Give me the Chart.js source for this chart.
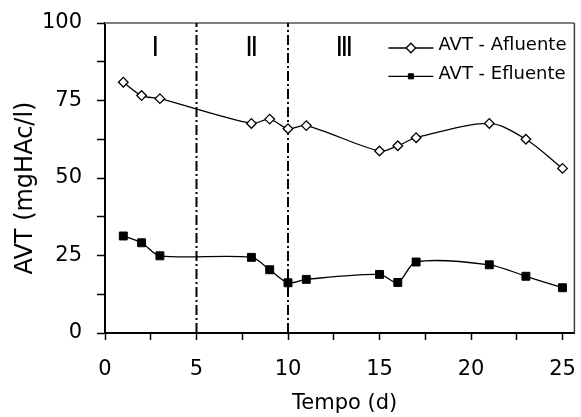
<!DOCTYPE html>
<html><head><meta charset="utf-8">
<script src="https://cdn.jsdelivr.net/npm/chart.js@4/dist/chart.umd.min.js"></script>
<style>html,body{margin:0;padding:0;background:#fff;}canvas{display:block;}</style>
</head><body>
<canvas id="c" width="581" height="417"></canvas>
<script>
// ---- data ----
const days = [1, 2, 3, 8, 9, 10, 11, 15, 16, 17, 21, 23, 25];
const afluente = [80.9, 76.6, 75.6, 67.6, 69.0, 65.9, 66.9, 58.7, 60.4, 63.0, 67.6, 62.5, 53.1];
const efluente = [31.3, 29.1, 24.9, 24.4, 20.4, 16.2, 17.3, 18.9, 16.3, 22.9, 22.0, 18.3, 14.6];
const seriesNames = ['AVT - Afluente', 'AVT - Efluente'];
const phaseBounds = [5, 10];
const phaseLabels = ['I', 'II', 'III'];
const phaseLabelX = [2.73, 8.0, 13.06];
const phaseLabelY = 89.4;
const xTickLabels = [0, 5, 10, 15, 20, 25];
const yTickLabels = [0, 25, 50, 75, 100];
const xTitle = 'Tempo (d)';
const yTitle = 'AVT (mgHAc/l)';

const FONT = 'DejaVu Sans';
const xMin = 0, xMax = 25.65, xMinorStep = 2.5, xLastTick = 25;
const yMin = 0, yMax = 100, yMinorStep = 12.5;

const toPts = (ys) => days.map((d, i) => ({x: d, y: ys[i]}));

const datasets = [
  {label: seriesNames[0], data: toPts(afluente), borderColor: '#000', borderWidth: 1.3,
   tension: 0.3, pointStyle: 'rectRot', pointRadius: 4.8, pointBackgroundColor: '#fff',
   pointBorderColor: '#000', pointBorderWidth: 1.3, legendRadius: 4.8},
  {label: seriesNames[1], data: toPts(efluente), borderColor: '#000', borderWidth: 1.3,
   tension: 0.3, pointStyle: 'rect', pointRadius: 5.6, pointBackgroundColor: '#000',
   pointBorderColor: '#000', pointBorderWidth: 1, legendRadius: 3.6}
];
phaseBounds.forEach(b => datasets.push({
  label: '_phase', data: [{x: b, y: yMin}, {x: b, y: yMax}], borderColor: '#000',
  borderWidth: 2, borderDash: [10, 3, 2, 3], pointRadius: 0, tension: 0, isDivider: true
}));

const decorPlugin = {
  id: 'decor',
  beforeDatasetsDraw(chart) {
    const {ctx, chartArea: a} = chart;
    ctx.save();
    ctx.strokeStyle = '#808080'; ctx.lineWidth = 2;
    ctx.beginPath(); ctx.moveTo(a.left, a.top); ctx.lineTo(a.right, a.top); ctx.stroke();
    ctx.strokeStyle = '#404040'; ctx.lineWidth = 1.5;
    ctx.beginPath(); ctx.moveTo(a.right, a.top); ctx.lineTo(a.right, a.bottom); ctx.stroke();
    ctx.restore();
  },
  afterDraw(chart) {
    const {ctx, chartArea: a, scales} = chart;
    const xs = scales.x, ys = scales.y;
    ctx.save();
    ctx.fillStyle = '#000';
    // phase labels
    ctx.font = '26px "' + FONT + '"';
    ctx.letterSpacing = '-2.6px';
    ctx.textAlign = 'center'; ctx.textBaseline = 'alphabetic';
    phaseLabels.forEach((t, i) => {
      ctx.fillText(t, xs.getPixelForValue(phaseLabelX[i]) - 1, ys.getPixelForValue(phaseLabelY));
    });
    ctx.letterSpacing = '0px';
    // axis titles
    ctx.font = '21px "' + FONT + '"';
    ctx.textAlign = 'center';
    ctx.fillText(xTitle, (a.left + a.right) / 2 + 5, 409);
    ctx.save();
    ctx.font = '24px "' + FONT + '"';
    ctx.translate(31.5, (a.top + a.bottom) / 2 + 10);
    ctx.rotate(-Math.PI / 2);
    ctx.fillText(yTitle, 0, 0);
    ctx.restore();
    // legend
    ctx.font = '18px "' + FONT + '"';
    ctx.textAlign = 'left';
    const lx0 = a.right - 186, lx1 = a.right - 141, tx = a.right - 136;
    const rows = [50.3, 78.6];
    chart.data.datasets.filter(d => !d.isDivider).forEach((d, i) => {
      const by = rows[i];
      const ly = by - 2.3;
      ctx.strokeStyle = d.borderColor; ctx.lineWidth = d.borderWidth;
      ctx.beginPath(); ctx.moveTo(lx0, ly); ctx.lineTo(lx1, ly); ctx.stroke();
      const cx = (lx0 + lx1) / 2, r = d.legendRadius;
      ctx.beginPath();
      if (d.pointStyle === 'rectRot') {
        ctx.moveTo(cx - r, ly); ctx.lineTo(cx, ly - r); ctx.lineTo(cx + r, ly); ctx.lineTo(cx, ly + r);
      } else {
        const s = Math.SQRT1_2 * r; ctx.rect(cx - s, ly - s, 2 * s, 2 * s);
      }
      ctx.closePath();
      ctx.fillStyle = d.pointBackgroundColor; ctx.fill();
      ctx.lineWidth = d.pointBorderWidth; ctx.strokeStyle = d.pointBorderColor; ctx.stroke();
      ctx.fillStyle = '#000';
      ctx.fillText(d.label, tx, by);
    });
    ctx.restore();
  }
};

new Chart(document.getElementById('c'), {
  type: 'line',
  data: {datasets},
  plugins: [decorPlugin],
  options: {
    responsive: false, animation: false, devicePixelRatio: 1,
    layout: {padding: {left: 0, right: 6, top: 23, bottom: 0}},
    plugins: {legend: {display: false}, tooltip: {enabled: false}},
    scales: {
      x: {
        type: 'linear', min: xMin, max: xMax,
        afterBuildTicks(s) {
          const t = []; for (let v = xMin; v <= xLastTick + 1e-9; v += xMinorStep) t.push({value: v}); s.ticks = t;
        },
        afterFit(s) { s.height = 84; s.paddingLeft = 0; s.paddingRight = 0; s.paddingTop = 0; s.paddingBottom = 0; },
        ticks: {autoSkip: false, maxRotation: 0, padding: 17, color: '#000',
          font: {family: FONT, size: 21},
          callback: (v) => xTickLabels.includes(v) ? String(v) : ''},
        grid: {drawOnChartArea: false, drawTicks: true, tickLength: 7, tickColor: '#000', tickWidth: 1.5},
        border: {display: true, color: '#000', width: 2}
      },
      y: {
        type: 'linear', min: yMin, max: yMax,
        afterBuildTicks(s) {
          const t = []; for (let v = yMin; v <= yMax + 1e-9; v += yMinorStep) t.push({value: v}); s.ticks = t;
        },
        afterFit(s) { s.width = 105; s.paddingLeft = 0; s.paddingRight = 0; s.paddingTop = 0; s.paddingBottom = 0; },
        ticks: {autoSkip: false, padding: 15, color: '#000',
          font: {family: FONT, size: 21},
          callback: (v) => yTickLabels.includes(v) ? String(v) : ''},
        grid: {drawOnChartArea: false, drawTicks: true, tickLength: 8, tickColor: '#000', tickWidth: 1.5},
        border: {display: true, color: '#000', width: 2}
      }
    }
  }
});
</script>
</body></html>
